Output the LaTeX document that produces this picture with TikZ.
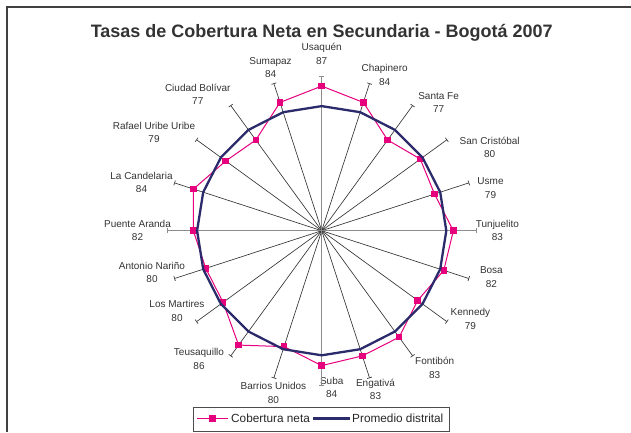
\documentclass[tikz,border=0pt]{standalone}
\usepackage{fontspec}
\setmainfont{Liberation Sans}
\usetikzlibrary{arrows.meta}
\definecolor{cobertura}{HTML}{E6007E}
\definecolor{promedio}{HTML}{2B2B6B}
\definecolor{texto}{HTML}{333333}
\begin{document}
\begin{tikzpicture}[x=1pt, y=-1pt,
    spoke/.style={draw=black!80, line width=0.65pt, -{Bar[width=5pt,line width=0.65pt]}},
    axisspoke/.style={spoke, draw=black!45, line width=1.1pt},
    marca/.style={fill=cobertura, inner sep=0pt, minimum size=6.5pt},
    etiqueta/.style={align=center, font=\fontsize{10}{13.5}\selectfont, text=texto, inner sep=0pt},
    leyenda/.style={anchor=west, font=\fontsize{11.8}{13}\selectfont, text=black!85, inner sep=0pt}]
  \useasboundingbox (0,0) rectangle (631,432);
  % marco
  \draw[black!75, line width=1.4pt] (631,7) -- (7,7) -- (7,432);
  \node[font=\fontsize{18}{20}\selectfont\bfseries, text=texto] (titulo) at (321.7,33)
    {Tasas de Cobertura Neta en Secundaria - Bogotá 2007};
  \coordinate (c) at (321.7,230.7);
  % ejes, puntos y etiquetas
  \foreach \nombre/\valor/\lx/\ly [count=\i from 0] in {
      Usaquén/87/321.7/53.7, Chapinero/84/384.6/74.7, Santa Fe/77/438.6/102.3,
      San Cristóbal/80/489.7/147.3, Usme/79/490.5/188.3, Tunjuelito/83/497.4/230.3,
      Bosa/82/491.4/277, Kennedy/79/470.4/318.7, Fontibón/83/434.7/368,
      Engativá/83/375.5/389.3, Suba/84/331.7/387.5, Barrios Unidos/80/273.4/393,
      Teusaquillo/86/199/359, Los Martires/80/177/310.8, Antonio Nariño/80/152/272.5,
      Puente Aranda/82/137.5/230.3, La Candelaria/84/141.5/182.5,
      Rafael Uribe Uribe/79/154/132.2, Ciudad Bolívar/77/197.8/94.2, Sumapaz/84/270.6/67.8} {
    \pgfmathsetmacro\ang{-90+18*\i}
    \pgfmathsetmacro\rad{3.25*(\valor-42.5)}
    \coordinate (eje\i) at ([shift={(\ang:155)}]c);
    \coordinate (prom\i) at ([shift={(\ang:124.6)}]c);
    \coordinate (dato\i) at ([shift={(\ang:\rad)}]c);
    \node[etiqueta] (lab\i) at (\lx,\ly) {\nombre\\\valor};
  }
  \foreach \i in {1,...,4,6,7,8,9,11,12,13,14,16,17,18,19}
    \draw[spoke] (c) -- (eje\i);
  \foreach \i in {0,5,10,15}
    \draw[axisspoke] (c) -- (eje\i);
  % series
  \draw[cobertura, line width=1pt] (dato0) \foreach \i in {1,...,19} { -- (dato\i) } -- cycle;
  \foreach \i in {0,...,19}
    \node[marca] (m\i) at (dato\i) {};
  \draw[promedio, line width=2.3pt, line join=round] (prom0) \foreach \i in {1,...,19} { -- (prom\i) } -- cycle;
  % leyenda
  \draw[black!70, line width=0.8pt] (193.3,407.3) rectangle (449,431);
  \coordinate (lc1) at (197,418.5);
  \coordinate (lc2) at (228,418.5);
  \coordinate (lp1) at (313,418.5);
  \coordinate (lp2) at (350,418.5);
  \draw[cobertura, line width=1pt] (lc1) -- (lc2);
  \node[marca] (lm) at (212.5,418.5) {};
  \node[leyenda] (tc) at (231,418.5) {Cobertura neta};
  \draw[promedio, line width=2.3pt] (lp1) -- (lp2);
  \node[leyenda] (tp) at (352,418.5) {Promedio distrital};
\end{tikzpicture}
\end{document}
